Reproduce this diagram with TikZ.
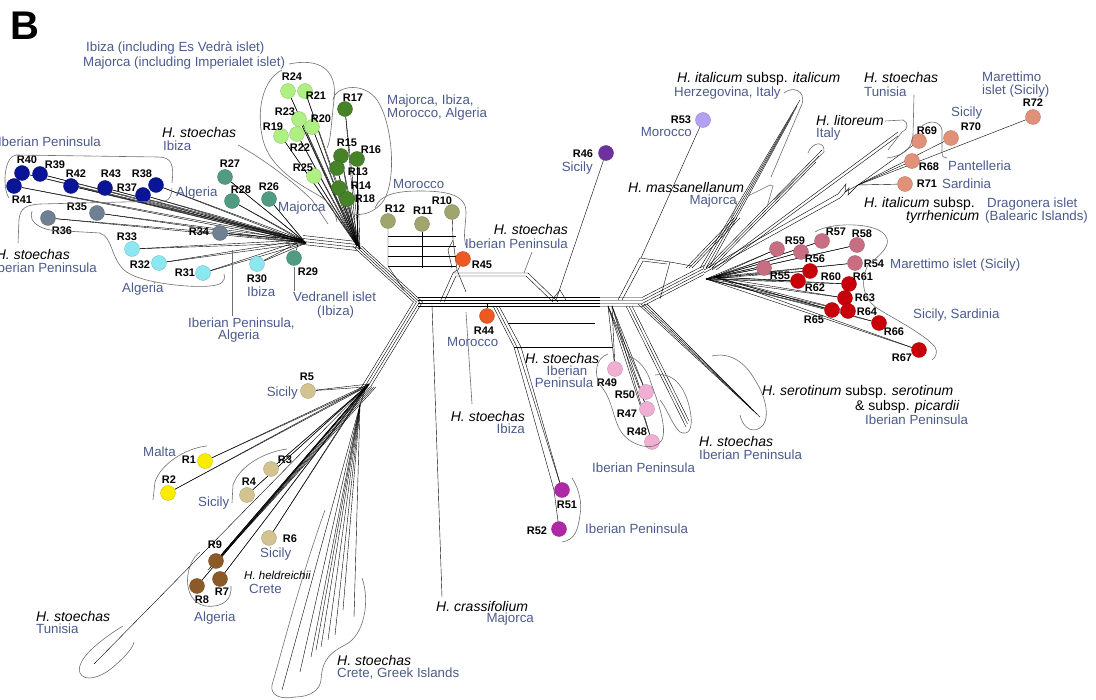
\documentclass[tikz,border=0pt]{standalone}
\usepackage{fontspec}
\setmainfont{Liberation Sans}
\usetikzlibrary{backgrounds}
\definecolor{cblue}{RGB}{10,20,150}
\definecolor{cgb}{RGB}{110,128,145}
\definecolor{ccyan}{RGB}{140,232,240}
\definecolor{cteal}{RGB}{80,155,130}
\definecolor{clg}{RGB}{175,240,130}
\definecolor{cdg}{RGB}{70,130,40}
\definecolor{colive}{RGB}{160,165,110}
\definecolor{corange}{RGB}{235,90,35}
\definecolor{cpurple}{RGB}{110,50,160}
\definecolor{clav}{RGB}{180,160,240}
\definecolor{cmauve}{RGB}{200,110,130}
\definecolor{cred}{RGB}{200,0,10}
\definecolor{csalmon}{RGB}{225,145,120}
\definecolor{cpink}{RGB}{240,175,210}
\definecolor{cmag}{RGB}{175,40,165}
\definecolor{ctan}{RGB}{210,195,145}
\definecolor{cyel}{RGB}{250,235,0}
\definecolor{cbrown}{RGB}{140,90,40}
\definecolor{labc}{RGB}{75,90,140}
\definecolor{envc}{RGB}{110,110,110}
\begin{document}
\begin{tikzpicture}[x=1pt,y=-1pt,
  dot/.style={circle,fill=#1,draw=#1!80!black,line width=0.35pt,minimum size=15pt,inner sep=0pt},
  lbl/.style={text=labc,font=\fontsize{13.3}{15}\selectfont,inner sep=0pt,text height=9.5pt,text depth=0pt},
  sp/.style={font=\fontsize{14}{16}\selectfont\itshape,inner sep=0pt,text height=10pt,text depth=0pt},
  rl/.style={font=\fontsize{11}{12}\selectfont\bfseries,inner sep=0pt,text height=7.9pt,text depth=0pt},
  net/.style={line width=0.65pt,black},
  env/.style={line width=0.6pt,draw=envc}]
\useasboundingbox (0,0) rectangle (1096,700);

% ---------- circles ----------
\foreach \n/\x/\y/\c in {
 40/22/173/cblue,41/14/186/cblue,39/40/174/cblue,42/71/186/cblue,43/105/188/cblue,38/156/185/cblue,37/143/195/cblue,
 35/97/213/cgb,36/48/218/cgb,34/220/233/cgb,
 33/132/249/ccyan,32/159/263/ccyan,31/203/273/ccyan,30/257/264/ccyan,
 29/294/258/cteal,27/225/177/cteal,28/232/201/cteal,26/269/199/cteal,
 24/288/91/clg,21/305/91/clg,23/299/119/clg,20/312/127/clg,19/281/136/clg,22/297/134/clg,25/314/176/clg,
 17/345/109/cdg,15/341/156/cdg,16/357/159/cdg,13/337/168/cdg,14/339/188/cdg,18/347/199/cdg,
 12/388/221/colive,11/422/224/colive,10/452/212/colive,
 45/463/259/corange,44/487/316/corange,46/606/153/cpurple,53/703/120/clav,
 59/777/249/cmauve,57/822/241/cmauve,58/857/245/cmauve,56/801/252/cmauve,54/855/263/cmauve,55/764/268/cmauve,
 60/810/271/cred,62/798/281/cred,61/849/284/cred,63/845/298/cred,64/848/311/cred,65/832/310/cred,66/879/323/cred,67/919/350/cred,
 72/1033/117/csalmon,69/919/141/csalmon,70/951/138/csalmon,68/912/161/csalmon,71/905/184/csalmon,
 49/615/369/cpink,50/646/392/cpink,47/647/409/cpink,48/652/442/cpink,
 51/562/490/cmag,52/559/529/cmag,
 5/308/391/ctan,3/271/469/ctan,4/247/495/ctan,6/269/538/ctan,
 1/205/461/cyel,2/168/493/cyel,
 9/216/561/cbrown,7/220/579/cbrown,8/197/586/cbrown}
 \node[dot=\c] (R\n) at (\x,\y) {};

% ---------- circle labels ----------
\foreach \n/\x/\y in {
 40/27/160,39/55/165,41/22/200,42/76/174,43/111/174,38/142/174,37/127/188,35/77/207,36/62/231,
 33/127/237,34/199/232,32/140/265,31/185/273,30/257/279,29/308/272,27/230/164,28/241/190,26/269/187,
 24/292/77,21/316/96,23/285/112,20/321/119,19/273/127,22/300/148,25/303/168,
 17/353/98,15/347/143,16/371/150,13/358/172,14/361/186,18/365/199,
 12/395/209,11/423/211,10/442/201,45/482/265,44/484/331,46/583/154,53/681/120,
 59/795/241,57/836/232,58/862/234,56/815/259,54/874/264,55/780/276,60/831/277,62/815/288,
 61/863/277,63/865/298,64/867/312,65/814/320,66/894/332,67/902/358,
 72/1033/103,70/971/127,69/927/131,68/929/167,71/927/184,
 49/607/383,50/625/395,47/627/414,48/637/432,51/567/505,52/537/531,
 5/307/377,1/189/460,2/169/480,3/285/460,4/249/482,6/290/539,9/215/545,7/222/592,8/202/600}
 \node[rl] (L\n) at (\x,\y) {R\n};

% ---------- network ----------
\begin{scope}[on background layer,net]
\coordinate (hA) at (303,240);
\coordinate (hB) at (357,246);
\coordinate (hC) at (418,302);
\coordinate (hD) at (600,302);
\coordinate (hE) at (704,270);
\coordinate (hE2) at (714,277);
\coordinate (hL) at (366,387);
\coordinate (hK) at (360,405);
\coordinate (hZ) at (858,185);
\coordinate (hP) at (608,306);

\foreach \n in {40,41,39,42,43,38,37,35,36,34,33,32,31,30,27,28,26} {
  \draw (R\n) -- (hA);
  \draw (R\n) -- ([xshift=3pt,yshift=-3pt]hA);
}
\draw (R29) -- (298,244);
\foreach \n in {24,21,23,20,19,22,25,17,15,16,13,14,18} {
  \draw (R\n) -- (hB);
  \draw (R\n) -- ([xshift=3pt,yshift=-3pt]hB);
}
\foreach \s in {-4.5,-1.5,1.5,4.5} \draw ([yshift=\s pt]hA) -- ([yshift=\s pt]hB);
\foreach \s in {-4.5,-1.5,1.5,4.5} \draw ([xshift=\s pt]hB) -- ([xshift=\s pt]hC);
% olive box
\draw (R12) -- (388,266) -- (404,290);
\draw (R11) -- (422,268);
\draw (R10) -- (453,240) -- (457,270) -- (466,292);
\foreach \y in {236,246,256,266} \draw (388,\y) -- (456,\y);
\draw (453,240) -- (448,250) -- (452,268);
% central band
\foreach \s in {-4.5,-1.5,1.5,4.5} \draw ([yshift=\s pt]hC) -- ([yshift=\s pt]hD);
\draw (440,302) -- (453,273) -- (528,273) -- (558,302);
\draw (444,302) -- (456,276) -- (526,276) -- (553,302);
\draw (457,270) -- (453,273);
\draw (R45) -- (458,270);
\draw (R44) -- (487,303);
\draw (R46) -- (556,300);
\draw (552,300) -- (560,290) -- (566,300);
% D-E
\foreach \s in {-4.5,-1.5,1.5,4.5} \draw ([yshift=\s pt]hD) -- ([xshift=42pt,yshift=\s pt]hD) -- ([yshift=\s pt]hE);
% massanellanum box
\draw (618,300) -- (640,258) -- (670,262) -- (660,299);
\draw (622,300) -- (643,261) -- (667,264);
\draw (R53) -- (641,258);
\draw (670,262) -- (692,266);
\foreach \s in {0,3,6} \draw ({686+\s},268) -- ({734+\s},218);
% fans from E
\foreach \s in {0,3,6,9} \draw ({700+\s},268) -- ({800-\s},{100+2*\s});
\foreach \s in {0,3,6} \draw ({706+\s},268) -- ({822-\s},{150+2*\s});
\foreach \s in {0,4} \draw ({712+\s},270) -- (898,{132+\s});
\draw (hE) -- (838,194) -- (846,184) -- (845,192) -- (hZ);
\draw ([yshift=-3pt]hE) -- (840,198) -- (849,188) -- (848,195) -- (hZ);
\foreach \n in {68,69,70,71,72} \draw (hZ) -- (R\n);
\foreach \n in {59,57,58,56,54,55,60,62,61,63,64,65,66,67} {
  \draw (R\n) -- (hE2);
  \draw (R\n) -- ([xshift=-8pt,yshift=-2pt]hE2);
}
% C-L bundle and lower left
\foreach \s in {-4.5,-1.5,1.5,4.5} \draw ([xshift=\s pt]hC) -- ([xshift=\s pt]hL);
\foreach \n in {5,1,2,3,4,6,9,7,8} {
  \draw (R\n) -- (hL);
  \draw (R\n) -- ([xshift=3pt,yshift=3pt]hL);
}
\foreach \s in {0,2,4,6,8,10} \draw ([xshift=\s pt]hL) -- ({208+\s},{570-\s});
\draw (hL) -- (94,664);
\draw (hL) -- (hK);
\foreach \e in {(282,690),(300,672),(311,657),(316,650),(321,647),(343,610),(354,617),(335,635),(328,640)}
  \draw (hK) -- \e;
\draw (432,305) -- (442,597);
% R51/R52
\draw (R51) -- (521,347) -- (499,306);
\draw (R51) -- (517,347) -- (496,306);
\draw (R52) -- (554,490) -- (514,347) -- (493,306);
\draw (514,347) -- (613,347);
\draw (508,323) -- (595,323);
% pink, stoechas IP, serotinum
\foreach \n in {49,50,47,48} {\draw (R\n) -- (hP); \draw (R\n) -- ([xshift=4pt]hP);}
\foreach \s in {0,3,6} \draw ({626+\s},306) -- ({686+\s*0.5},{427-\s});
\foreach \s in {0,3,6,9} \draw ({638+\s},304) -- ({760-\s},{417-\s});
\end{scope}

% ---------- envelopes and leaders ----------
\draw[env] (289,64) .. controls (318,58) and (338,68) .. (334,100) .. controls (331,125) and (331,140) .. (327,148);
\draw[env] (282,70) .. controls (262,80) and (256,112) .. (263,140) .. controls (270,168) and (300,185) .. (318,195) .. controls (330,202) and (335,210) .. (337,222);
\draw[env] (238,145) .. controls (265,160) and (295,183) .. (312,200) -- (328,224);
\draw[env] (333,100) .. controls (335,85) and (368,80) .. (380,105) .. controls (393,130) and (396,180) .. (384,200) .. controls (374,215) and (355,218) .. (346,211);
\draw[env] (375,208) .. controls (380,194) and (398,191) .. (420,191) .. controls (445,191) and (466,194) .. (466,212) .. controls (466,226) and (462,238) .. (467,248);
\draw[env] (172,183) .. controls (174,165) and (172,157) .. (158,157) -- (16,155) .. controls (4,156) and (2,188) .. (9,198);
\draw[env] (32,211) .. controls (27,224) and (45,232) .. (65,231) -- (100,233) .. controls (113,238) and (110,256) .. (124,270) .. controls (138,283) and (190,288) .. (210,286) .. controls (222,285) and (226,281) .. (224,274);
\draw[env] (18,243) -- (19,220) .. controls (20,208) and (26,205) .. (40,204) -- (165,201) .. controls (170,200) and (172,194) .. (172,188);
\draw[env] (232,316) -- (232,250);
\draw[env] (294,291) -- (294,267);
\draw[env] (532,252) -- (524,273);
\draw[env] (737,201) .. controls (736,208) and (734,212) .. (731,218);
\draw[env] (748,196) -- (770,185) -- (773,186) -- (767,207);
\draw[env] (784,93) .. controls (792,86) and (806,90) .. (802,104) -- (771,177);
\draw[env] (796,108) -- (767,162);
\draw[env] (808,153) .. controls (812,142) and (825,140) .. (824,152) -- (774,200);
\draw[env] (885,121) -- (903,120) .. controls (909,122) and (908,130) .. (902,132) -- (888,150);
\draw[env] (914,95) -- (913,135) .. controls (912,150) and (902,156) .. (887,158);
\draw[env] (921,127) .. controls (928,120) and (940,120) .. (942,130) -- (942,152) .. controls (942,157) and (944,158) .. (947,158);
\draw[env] (815,232) .. controls (830,222) and (875,222) .. (885,235) .. controls (893,245) and (880,255) .. (868,265) .. controls (860,280) and (862,300) .. (880,310) .. controls (900,322) and (925,335) .. (935,347) .. controls (938,352) and (936,357) .. (932,360);
\draw[env] (608,354) .. controls (595,358) and (594,375) .. (600,385) .. controls (612,398) and (612,415) .. (620,430) .. controls (630,447) and (655,452) .. (662,440) .. controls (668,425) and (655,395) .. (650,380) .. controls (645,365) and (635,358) .. (628,356);
\draw[env] (655,375) .. controls (672,372) and (685,385) .. (690,410) .. controls (694,430) and (688,436) .. (680,432) .. controls (672,425) and (668,410) .. (660,400);
\draw[env] (712,356) .. controls (730,352) and (745,362) .. (755,380) .. controls (768,400) and (770,422) .. (760,428) .. controls (750,434) and (742,425) .. (740,415);
\draw[env] (572,478) .. controls (580,490) and (582,505) .. (580,515) .. controls (578,530) and (575,540) .. (562,542);
\draw[env] (207,446) .. controls (185,448) and (160,465) .. (155,482) -- (153,500);
\draw[env] (287,449) .. controls (265,452) and (240,465) .. (233,485) -- (232,503);
\draw[env] (200,552) .. controls (185,562) and (180,600) .. (205,606) .. controls (225,608) and (232,598) .. (231,586);
\draw[env] (123,626) .. controls (100,640) and (75,660) .. (80,673) .. controls (84,682) and (100,678) .. (112,668) .. controls (125,657) and (133,648) .. (134,642);
\draw[env] (325,510) .. controls (300,580) and (285,640) .. (272,685) .. controls (270,695) and (280,700) .. (295,697);
\draw[env] (362,578) .. controls (370,600) and (365,635) .. (345,645) .. controls (325,655) and (322,665) .. (321,680) .. controls (320,690) and (310,697) .. (295,697);
\draw[env] (472,404) -- (466,312);

% ---------- texts ----------
\node[font=\fontsize{40}{40}\selectfont\bfseries,anchor=north west,inner sep=0pt] (B) at (10,12) {B};
\node[lbl,anchor=west] (t1) at (86,47) {Ibiza (including Es Vedrà islet)};
\node[lbl,anchor=west] (t2) at (83,62) {Majorca (including Imperialet islet)};
\node[lbl,anchor=east] (t3) at (101,142) {Iberian Peninsula};
\node[sp,anchor=west] (t4) at (162,133) {H. stoechas};
\node[lbl,anchor=west] (t5) at (163,146) {Ibiza};
\node[lbl,anchor=west] (t6) at (176,192) {Algeria};
\node[lbl,anchor=west] (t7) at (278,207) {Majorca};
\node[lbl,anchor=west] (t8) at (387,100) {Majorca, Ibiza,};
\node[lbl,anchor=west] (t9) at (387,113) {Morocco, Algeria};
\node[lbl,anchor=west] (t10) at (393,184) {Morocco};
\node[sp,anchor=east] (t11) at (70,255) {H. stoechas};
\node[lbl,anchor=east] (t12) at (97,268) {Iberian Peninsula};
\node[lbl,anchor=west] (t13) at (122,288) {Algeria};
\node[lbl,anchor=west] (t14) at (247,292) {Ibiza};
\node[lbl,anchor=west] (t15) at (293,297) {Vedranell islet};
\node[lbl,anchor=west] (t16) at (317,311) {(Ibiza)};
\node[lbl,anchor=west] (t17) at (188,323) {Iberian Peninsula,};
\node[lbl,anchor=west] (t18) at (218,335) {Algeria};
\node[sp,anchor=east] (t19) at (568,230) {H. stoechas};
\node[lbl,anchor=east] (t20) at (568,244) {Iberian Peninsula};
\node[lbl,anchor=east] (t21) at (593,167) {Sicily};
\node[lbl,anchor=east] (t22) at (692,132) {Morocco};
\node[sp,anchor=west] (t23) at (628,188) {H. massanellanum};
\node[lbl,anchor=east] (t24) at (737,200) {Majorca};
\node[sp,anchor=west] (t25) at (677,78) {H. italicum {\upshape subsp.} italicum};
\node[lbl,anchor=west] (t26) at (674,92) {Herzegovina, Italy};
\node[sp,anchor=west] (t27) at (816,121) {H. litoreum};
\node[lbl,anchor=west] (t28) at (816,133) {Italy};
\node[sp,anchor=west] (t29) at (864,78) {H. stoechas};
\node[lbl,anchor=west] (t30) at (864,92) {Tunisia};
\node[lbl,anchor=west] (t31) at (982,77) {Marettimo};
\node[lbl,anchor=west] (t32) at (982,90) {islet (Sicily)};
\node[lbl,anchor=west] (t33) at (951,112) {Sicily};
\node[lbl,anchor=west] (t34) at (948,166) {Pantelleria};
\node[lbl,anchor=west] (t35) at (942,184) {Sardinia};
\node[sp,anchor=west] (t36) at (864,203) {H. italicum {\upshape subsp.}};
\node[sp,anchor=west] (t37) at (906,216) {tyrrhenicum};
\node[lbl,anchor=west] (t38) at (987,203) {Dragonera islet};
\node[lbl,anchor=west] (t39) at (985,216) {(Balearic Islands)};
\node[lbl,anchor=west] (t40) at (890,264) {Marettimo islet (Sicily)};
\node[lbl,anchor=west] (t41) at (913,314) {Sicily, Sardinia};
\node[lbl,anchor=west] (t42) at (447,342) {Morocco};
\node[sp,anchor=west] (t43) at (525,359) {H. stoechas};
\node[lbl] (t44) at (567,371) {Iberian};
\node[lbl] (t45) at (564,383) {Peninsula};
\node[lbl,anchor=west] (t46) at (592,468) {Iberian Peninsula};
\node[sp,anchor=west] (t47) at (699,442) {H. stoechas};
\node[lbl,anchor=west] (t48) at (699,455) {Iberian Peninsula};
\node[sp,anchor=west] (t49) at (762,391) {H. serotinum {\upshape subsp.} serotinum};
\node[sp,anchor=west] (t50) at (855,406) {{\upshape\& subsp.} picardii};
\node[lbl,anchor=west] (t51) at (865,420) {Iberian Peninsula};
\node[sp,anchor=east] (t52) at (525,417) {H. stoechas};
\node[lbl,anchor=east] (t53) at (525,429) {Ibiza};
\node[lbl,anchor=west] (t54) at (585,529) {Iberian Peninsula};
\node[lbl,anchor=east] (t55) at (298,392) {Sicily};
\node[lbl,anchor=west] (t56) at (143,452) {Malta};
\node[lbl,anchor=west] (t57) at (198,502) {Sicily};
\node[lbl,anchor=west] (t58) at (260,553) {Sicily};
\node[sp,anchor=west,font=\fontsize{11.5}{13}\selectfont\itshape,text height=8.3pt] (t59) at (244,575) {H. heldreichii};
\node[lbl,anchor=west] (t60) at (249,589) {Crete};
\node[lbl,anchor=west] (t61) at (194,617) {Algeria};
\node[sp,anchor=west] (t62) at (36,616) {H. stoechas};
\node[lbl,anchor=west] (t63) at (36,629) {Tunisia};
\node[sp,anchor=west] (t64) at (337,660) {H. stoechas};
\node[lbl,anchor=west] (t65) at (337,673) {Crete, Greek Islands};
\node[sp,anchor=west] (t66) at (436,606) {H. crassifolium};
\node[lbl,anchor=east] (t67) at (534,618) {Majorca};
\end{tikzpicture}
\end{document}
